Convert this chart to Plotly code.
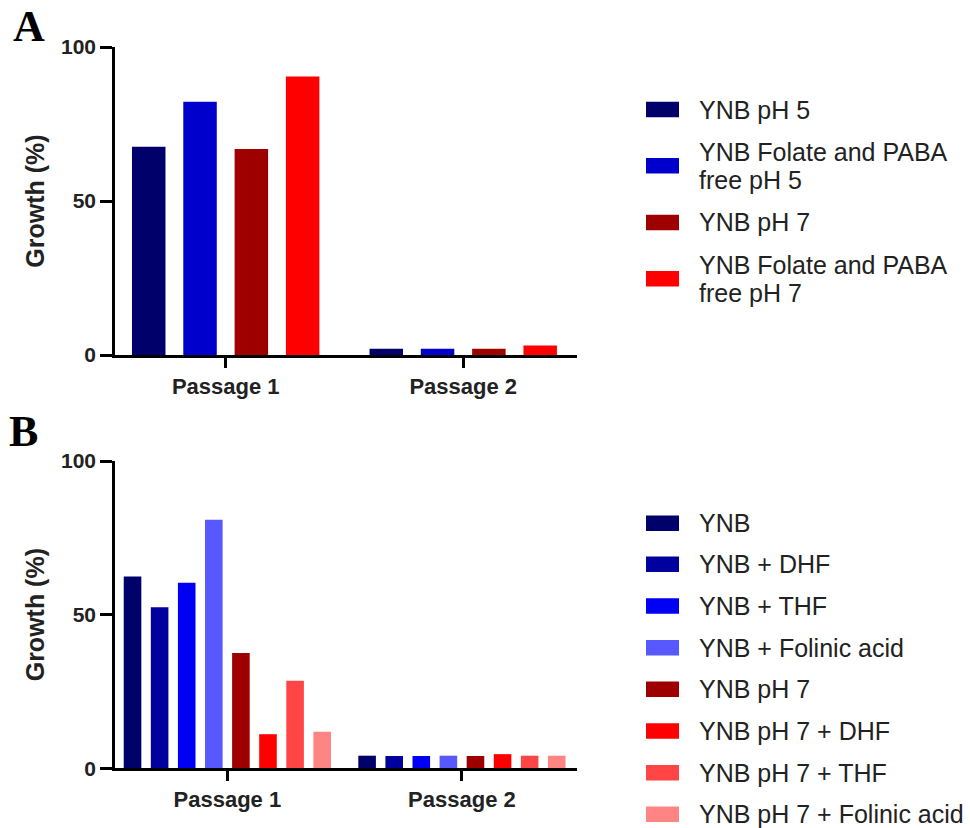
import plotly.graph_objects as go

# ---- data ----
passages = ["Passage 1", "Passage 2"]

a_names = ["YNB pH 5", "YNB Folate and PABA<br>free pH 5", "YNB pH 7",
           "YNB Folate and PABA<br>free pH 7"]
a_colors = ["#00006B", "#0000CC", "#9E0000", "#FF0000"]
a_passage1 = [67.6, 82.2, 66.9, 90.4]
a_passage2 = [2.0, 2.0, 2.0, 3.1]

b_names = ["YNB", "YNB + DHF", "YNB + THF", "YNB + Folinic acid", "YNB pH 7",
           "YNB pH 7 + DHF", "YNB pH 7 + THF", "YNB pH 7 + Folinic acid"]
b_colors = ["#00006B", "#00009E", "#0000F5", "#5858FF", "#9E0000",
            "#FF0000", "#FF4545", "#FF8585"]
b_passage1 = [62.4, 52.4, 60.4, 80.9, 37.5, 11.1, 28.5, 11.9]
b_passage2 = [4.1, 4.0, 4.0, 4.1, 4.0, 4.6, 4.1, 4.1]

y_ticks = [0, 50, 100]

W, H = 970, 828
FONT = "Liberation Sans"


def px(x):
    return x / W


def py(y):
    return 1 - y / H


fig = go.Figure()


def add_group(names, colors, p1, p2, xa, ya, step, width):
    n = len(names)
    for i, (nm, col) in enumerate(zip(names, colors)):
        offset = (i - n / 2) * step + (step - width) / 2
        fig.add_trace(go.Bar(
            x=passages, y=[p1[i], p2[i]], name=nm.replace("<br>", " "),
            marker=dict(color=col, line=dict(width=0)),
            width=width, offset=offset, xaxis=xa, yaxis=ya,
            showlegend=False,
        ))


add_group(a_names, a_colors, a_passage1, a_passage2, "x", "y", 0.216, 0.141)
add_group(b_names, b_colors, b_passage1, b_passage2, "x2", "y2", 0.1155, 0.075)

axis_common = dict(showline=True, linecolor="black", linewidth=2.5,
                   ticks="outside", tickcolor="black", tickwidth=2.5,
                   showgrid=False, zeroline=False, automargin=False)

xfont = dict(family=FONT, size=22, color="#222", weight="bold")
yfont = dict(family=FONT, size=21, color="#222", weight="bold")
tfont = dict(family=FONT, size=25, color="#222", weight="bold")

fig.update_layout(
    width=W, height=H, margin=dict(l=0, r=0, t=0, b=0, autoexpand=False),
    paper_bgcolor="white", plot_bgcolor="white", barmode="overlay",
    showlegend=False,
    xaxis=dict(domain=[px(115), px(577)], anchor="y", type="category",
               range=[-0.466, 1.479], ticklen=10, tickfont=xfont, **axis_common),
    yaxis=dict(domain=[py(355), py(47)], anchor="x", range=[0, 100],
               tickvals=y_ticks, ticklen=12, tickfont=yfont,
               title=dict(text="Growth (%)", font=tfont, standoff=10),
               **axis_common),
    xaxis2=dict(domain=[px(115), px(577)], anchor="y2", type="category",
                range=[-0.479, 1.4906], ticklen=10, tickfont=xfont, **axis_common),
    yaxis2=dict(domain=[py(768.3), py(461)], anchor="x2", range=[0, 100],
                tickvals=y_ticks, ticklen=12, tickfont=yfont,
                title=dict(text="Growth (%)", font=tfont, standoff=10),
                **axis_common),
)

shapes = []
annotations = []

# panel letters
for letter, xc, yc in [("A", 29, 26), ("B", 23, 431)]:
    annotations.append(dict(
        text=f"<b>{letter}</b>", x=px(xc), y=py(yc), xref="paper", yref="paper",
        xanchor="center", yanchor="middle", showarrow=False,
        font=dict(family="Liberation Serif", size=44, color="black")))


def add_legend(names, colors, centers, line_gap):
    for nm, col, yc in zip(names, colors, centers):
        shapes.append(dict(type="rect", xref="paper", yref="paper",
                           x0=px(646), x1=px(679), y0=py(yc + 7.8), y1=py(yc - 7.8),
                           fillcolor=col, line=dict(width=0)))
        lines = nm.split("<br>")
        top = yc - line_gap * (len(lines) - 1) / 2
        for k, ln in enumerate(lines):
            annotations.append(dict(
                text=ln, x=px(697), y=py(top + k * line_gap), xref="paper",
                yref="paper", xanchor="left", yanchor="middle", showarrow=False,
                font=dict(family=FONT, size=25, color="#222")))


add_legend(a_names, a_colors, [109.5, 165.8, 222.5, 278.8], 27.5)
add_legend(b_names, b_colors,
           [523.3, 564.3, 606.0, 647.7, 689.3, 731.0, 772.7, 814.3], 27.5)

fig.update_layout(shapes=shapes, annotations=annotations)

fig.write_html("out.html")
